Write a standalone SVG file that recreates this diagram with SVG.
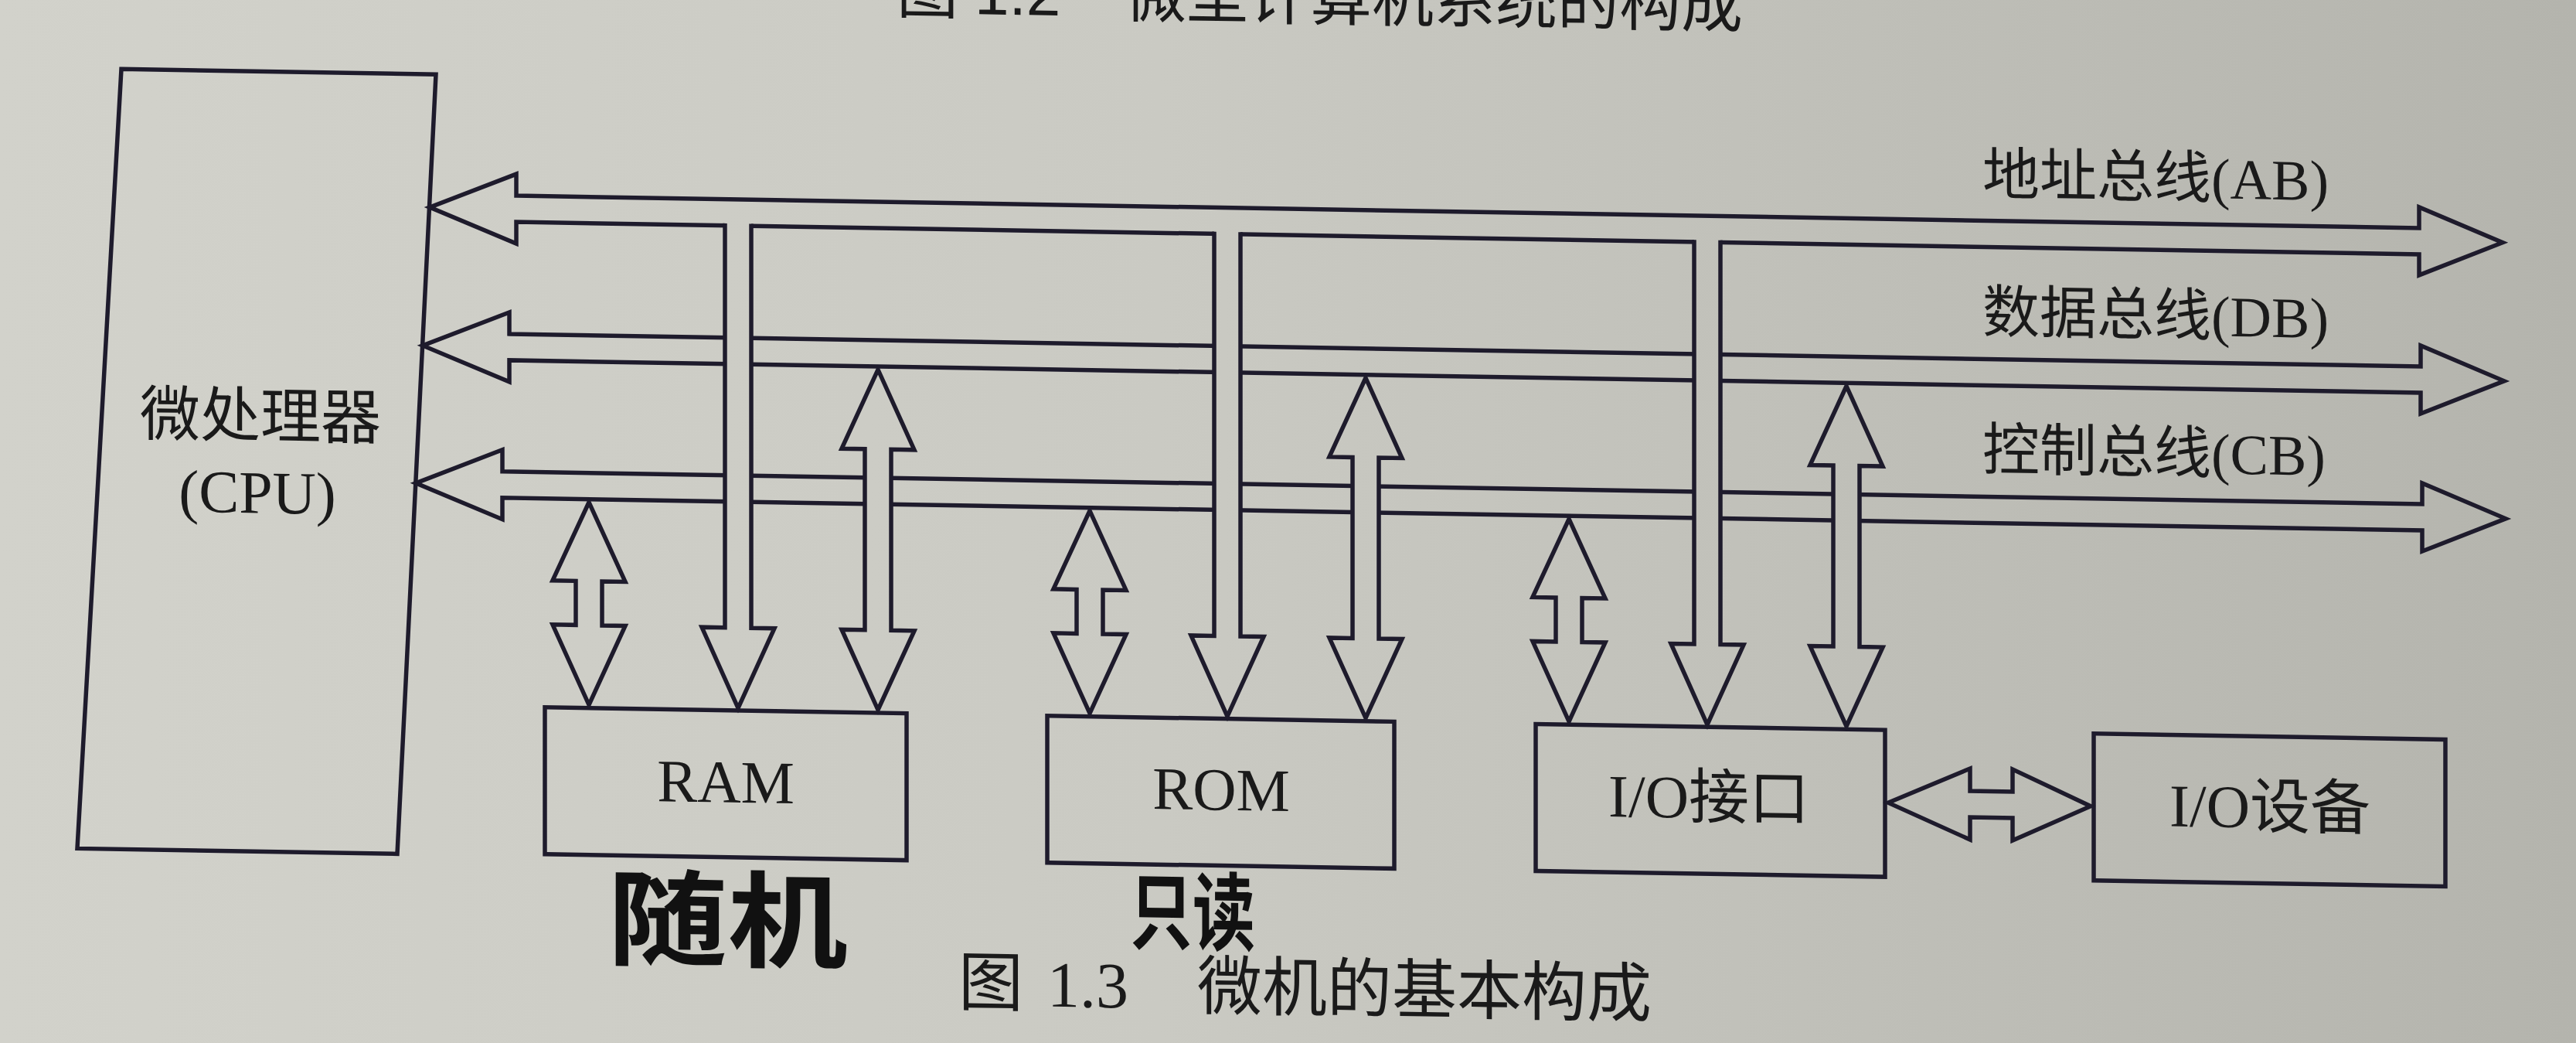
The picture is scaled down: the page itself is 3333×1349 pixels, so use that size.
<svg xmlns="http://www.w3.org/2000/svg" width="3333" height="1349" viewBox="0 0 3333 1349">
<defs>
<linearGradient id="paper" gradientUnits="userSpaceOnUse" x1="0" y1="0" x2="3333" y2="0">
<stop offset="0" stop-color="#d2d2cb"/>
<stop offset="0.45" stop-color="#cacac3"/>
<stop offset="1" stop-color="#b4b4ad"/>
</linearGradient>
</defs>
<style>
.ln{fill:none;stroke:#1e1b2c;stroke-width:5.5;stroke-linejoin:miter}
.box{fill:url(#paper);stroke:#1e1b2c;stroke-width:5.5}
.arw{fill:url(#paper);stroke:#1e1b2c;stroke-width:5.5;stroke-linejoin:miter}
.cover{fill:url(#paper);stroke:none}
.open{fill:none;stroke:#1e1b2c;stroke-width:5.5;stroke-linecap:square;stroke-linejoin:miter}
.lbl{font-family:"Liberation Serif","Noto Sans CJK SC",serif;font-size:78px;fill:#1a1a1a}
.bus{font-family:"Liberation Serif","Noto Sans CJK SC",serif;font-size:74px;fill:#1a1a1a}
.cap{font-family:"Liberation Serif","Noto Sans CJK SC",serif;font-size:84px;fill:#1a1a1a}
.top{font-family:"Liberation Sans","Noto Sans CJK SC",sans-serif;font-size:80px;fill:#1a1a1a}
.hand{font-family:"Noto Sans CJK SC",sans-serif;font-weight:700;fill:#111111}
</style>
<rect width="3333" height="1349" fill="url(#paper)"/>
<g transform="matrix(1 0.017 0 1 0 -28.3)">
<text class="top" y="25"><tspan x="1160">图</tspan><tspan x="1261">1.2</tspan><tspan x="1455">微型计算机系统的构成</tspan></text>

<g id="cpu">
<polygon class="box" points="157,115 564,115 514,1124 100,1124"/>
<text class="lbl" x="337" y="588" text-anchor="middle">微处理器</text>
<text class="lbl" x="333" y="686" text-anchor="middle">(CPU)</text>
</g>

<g id="ram">
<rect class="box" x="705" y="931" width="468" height="190"/>
<text class="lbl" x="939" y="1050" text-anchor="middle">RAM</text>
</g>
<g id="rom">
<rect class="box" x="1355" y="931" width="449" height="190"/>
<text class="lbl" x="1580" y="1049" text-anchor="middle">ROM</text>
</g>
<g id="io-interface">
<rect class="box" x="1987" y="931" width="452" height="190"/>
<text class="lbl" x="2211" y="1049" text-anchor="middle">I/O接口</text>
</g>
<g id="io-device">
<rect class="box" x="2709" y="931" width="455" height="190"/>
<text class="lbl" x="2937" y="1049" text-anchor="middle">I/O设备</text>
</g>

<g id="connectors">
<g id="buses">
<path class="ln" d="M668,270 H3130 V243 L3238,287 L3130,331 V304 H668 V332 L556,287 L668,242 Z"/>
<path class="ln" d="M659,449 H3132 V422 L3240,466 L3132,510 V483 H659 V511 L547,466 L659,421 Z"/>
<path class="ln" d="M650,627 H3134 V600 L3242,644 L3134,688 V661 H650 V689 L538,644 L650,599 Z"/>
<text class="bus" x="2565" y="236">地址总线(AB)</text>
<text class="bus" x="2565" y="414">数据总线(DB)</text>
<text class="bus" x="2565" y="592">控制总线(CB)</text>
</g>
<g id="address-links">
<path class="cover" d="M938,300 V824 H908 L955,928 L1002,824 H972 V300 Z"/>
<path class="open" d="M938,304 V824 H908 L955,928 L1002,824 H972 V304"/>
<path class="cover" d="M1571,300 V824 H1541 L1588,928 L1635,824 H1605 V300 Z"/>
<path class="open" d="M1571,304 V824 H1541 L1588,928 L1635,824 H1605 V304"/>
<path class="cover" d="M2192,300 V824 H2162 L2209,928 L2256,824 H2226 V300 Z"/>
<path class="open" d="M2192,304 V824 H2162 L2209,928 L2256,824 H2226 V304"/>
</g>
<g id="data-links">
<path class="arw" d="M1136,487 L1183,590 H1153 V824 H1183 L1136,927 L1089,824 H1119 V590 H1089 Z"/>
<path class="arw" d="M1767,487 L1814,590 H1784 V824 H1814 L1767,927 L1720,824 H1750 V590 H1720 Z"/>
<path class="arw" d="M2389,487 L2436,590 H2406 V824 H2436 L2389,927 L2342,824 H2372 V590 H2342 Z"/>
</g>
<g id="control-links">
<path class="arw" d="M762,665 L809,767 H779 V824 H809 L762,927 L715,824 H745 V767 H715 Z"/>
<path class="arw" d="M1410,665 L1457,767 H1427 V824 H1457 L1410,927 L1363,824 H1393 V767 H1363 Z"/>
<path class="arw" d="M2030,665 L2077,767 H2047 V824 H2077 L2030,927 L1983,824 H2013 V767 H1983 Z"/>
</g>
<path id="io-link" class="arw" d="M2443,1025 L2549,979 V1008 H2604 V979 L2705,1025 L2604,1071 V1042 H2549 V1071 Z"/>
</g>

<text class="hand" x="786" y="1252" font-size="135" textLength="311" lengthAdjust="spacingAndGlyphs">随机</text>
<text class="hand" x="1462" y="1222" font-size="110" textLength="162" lengthAdjust="spacingAndGlyphs">只读</text>

<text class="cap" y="1307"><tspan x="1240">图</tspan><tspan x="1355">1.3</tspan><tspan x="1549">微机的基本构成</tspan></text>
</g>
</svg>
